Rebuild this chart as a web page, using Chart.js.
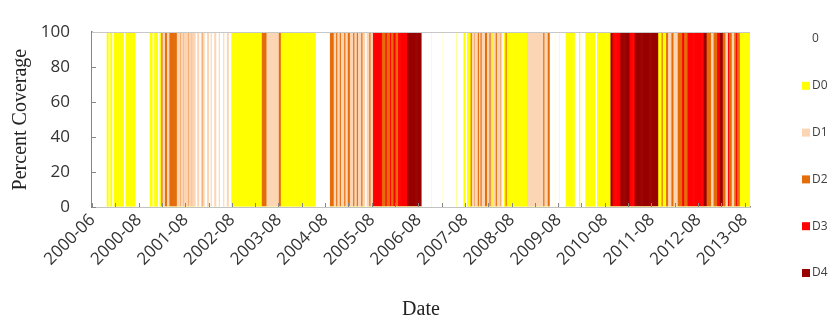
<!DOCTYPE html>
<html>
<head>
<meta charset="utf-8">
<script src="https://cdn.jsdelivr.net/npm/chart.js@4.4.1/dist/chart.umd.min.js"></script>
<style>
  html, body { margin: 0; padding: 0; background: #fff; }
</style>
</head>
<body>
<canvas id="chart" width="840" height="322"></canvas>
<script>
// drought categories in stacking order, and their colours
const categories = ['0', 'D0', 'D1', 'D2', 'D3', 'D4'];
const categoryColors = ['#ffffff', '#ffff00', '#fcd5b4', '#e46c0a', '#ff0000', '#990000'];

// x axis labels, one every 52 weeks
const tickLabels = ['2000-06', '2000-08', '2001-08', '2002-08', '2003-08', '2004-08', '2005-08',
  '2006-08', '2007-08', '2008-08', '2009-08', '2010-08', '2011-08', '2012-08', '2013-08'];
const weeksPerLabel = 52;

// weekly drought category: [category index, number of weeks]
const runs = [
  [0,16],
  [1,3],[0,1],[1,3],[0,1],
  [1,12],[0,1],[1,12],
  [0,15],
  [1,4],[0,1],[1,5],[0,1],[1,2],
  [3,2],[2,2],[3,3],[2,2],
  [3,9],
  [2,3],[3,1],[2,3],[3,1],[2,4],[3,1],[2,3],[3,1],[2,2],
  [2,2],[0,1],[2,3],[0,1],[2,2],[3,1],[2,2],[0,2],[2,3],[0,1],[2,2],[0,2],[2,3],[0,2],[2,2],[0,3],[2,2],[0,2],[2,3],[0,2],
  [1,34],
  [3,6],
  [2,13],
  [3,3],
  [1,39],
  [0,15],
  [3,5],
  [2,2],[3,2],[2,2],[3,2],[2,3],[3,2],[2,2],[3,3],[2,3],[3,2],[2,2],[3,2],[2,3],[3,2],[2,3],[0,1],[2,3],[3,2],[2,2],
  [4,11],
  [3,3],[4,2],[3,3],[4,2],[3,2],[4,3],[3,2],[4,2],
  [4,8],[5,17],
  [0,10],[1,1],[0,12],[1,1],[0,14],[1,1],[0,7],
  [1,3],[0,1],[1,4],
  [3,2],[2,2],[3,1],[2,3],[3,2],[2,1],[3,2],[2,3],[3,3],[2,2],[3,2],[2,2],[1,1],[2,2],[3,2],[2,3],[3,1],[2,2],[0,1],[1,2],[3,2],
  [1,22],
  [2,18],
  [3,2],[2,3],[3,3],
  [0,5],[1,1],[0,4],[1,1],[0,6],[1,11],[0,4],[1,2],[0,5],[1,12],[0,1],[1,15],
  [5,3],[4,8],[5,11],[4,5],[5,27],
  [1,3],[3,2],[1,3],[3,3],
  [2,3],[3,3],[2,4],[3,3],
  [3,2],[4,3],[3,3],
  [4,18],
  [5,4],
  [3,5],[2,2],[3,4],
  [4,3],[5,4],
  [3,3],[2,2],[4,2],[3,3],[2,2],[3,2],[4,2],[3,3],
  [1,5],[2,1],[1,5]
];

// expand the runs into one category per week
const weekCodes = [];
runs.forEach(([code, n]) => {
  for (let i = 0; i < n; i++) weekCodes.push(code);
});

const weekLabels = weekCodes.map((c, i) =>
  i % weeksPerLabel === 0 ? (tickLabels[i / weeksPerLabel] || '') : '');

// each week is 100% covered by one category
const datasets = categories.map((name, k) => ({
  label: name,
  data: weekCodes.map(c => (c === k ? 100 : 0)),
  backgroundColor: categoryColors[k],
  borderWidth: 0,
  barPercentage: 1,
  categoryPercentage: 1
}));

const axisGrey = '#868686';

// small tick marks inside the plot and the top edge of the box
const innerTicks = {
  id: 'innerTicks',
  afterDatasetsDraw(chart) {
    const { ctx, chartArea, scales: { x, y } } = chart;
    const half = (x.getPixelForValue(1) - x.getPixelForValue(0)) / 2;
    ctx.save();
    ctx.strokeStyle = axisGrey;
    ctx.lineWidth = 1;
    ctx.beginPath();
    for (let i = 0; i <= weekCodes.length; i += weeksPerLabel / 2) {
      const px = Math.round(x.getPixelForValue(i) - half) + 0.5;
      ctx.moveTo(px, chartArea.bottom);
      ctx.lineTo(px, chartArea.bottom - 4);
    }
    y.ticks.forEach(t => {
      const py = Math.round(y.getPixelForValue(t.value)) + 0.5;
      ctx.moveTo(chartArea.left, py);
      ctx.lineTo(chartArea.left + 4, py);
    });
    ctx.stroke();
    ctx.strokeStyle = '#c8c8c8';
    ctx.beginPath();
    ctx.moveTo(chartArea.left, Math.round(chartArea.top) + 0.5);
    ctx.lineTo(chartArea.right, Math.round(chartArea.top) + 0.5);
    ctx.stroke();
    ctx.restore();
  }
};

// legend column on the right
const sideLegend = {
  id: 'sideLegend',
  afterDraw(chart) {
    const { ctx, chartArea } = chart;
    const x = chartArea.right + 52;
    ctx.save();
    ctx.font = '12px "Open Sans"';
    ctx.textBaseline = 'middle';
    chart.data.datasets.forEach((ds, i) => {
      const y = 39 + i * 46.8;
      ctx.fillStyle = ds.backgroundColor;
      ctx.fillRect(x, y - 4, 8, 8);
      ctx.fillStyle = '#404040';
      ctx.fillText(ds.label, x + 10, y);
    });
    ctx.restore();
  }
};

new Chart(document.getElementById('chart'), {
  type: 'bar',
  data: { labels: weekLabels, datasets },
  plugins: [innerTicks, sideLegend],
  options: {
    responsive: false,
    animation: false,
    events: [],
    layout: { autoPadding: false, padding: { top: 18, right: 90, bottom: 0, left: 0 } },
    plugins: { legend: { display: false }, tooltip: { enabled: false } },
    scales: {
      x: {
        stacked: true,
        afterFit(scale) { scale.height = 115; },
        grid: { display: false, drawTicks: false },
        border: { display: true, color: axisGrey, width: 1.5 },
        ticks: {
          autoSkip: false,
          minRotation: 45,
          maxRotation: 45,
          padding: 3,
          color: '#333',
          font: { family: 'Open Sans', size: 17 }
        },
        title: {
          display: true,
          text: 'Date',
          color: '#222',
          font: { family: 'Liberation Serif', size: 20 },
          padding: { top: 8, bottom: 0 }
        }
      },
      y: {
        stacked: true,
        min: 0,
        max: 100,
        afterFit(scale) { scale.width = 92; },
        grid: { display: false, drawTicks: false },
        border: { display: true, color: axisGrey, width: 1.5 },
        ticks: {
          stepSize: 20,
          padding: 22,
          color: '#333',
          font: { family: 'Open Sans', size: 17 }
        },
        title: {
          display: true,
          text: 'Percent Coverage',
          color: '#222',
          font: { family: 'Liberation Serif', size: 20 },
          padding: { top: 9, bottom: 8 }
        }
      }
    }
  }
});
</script>
</body>
</html>
